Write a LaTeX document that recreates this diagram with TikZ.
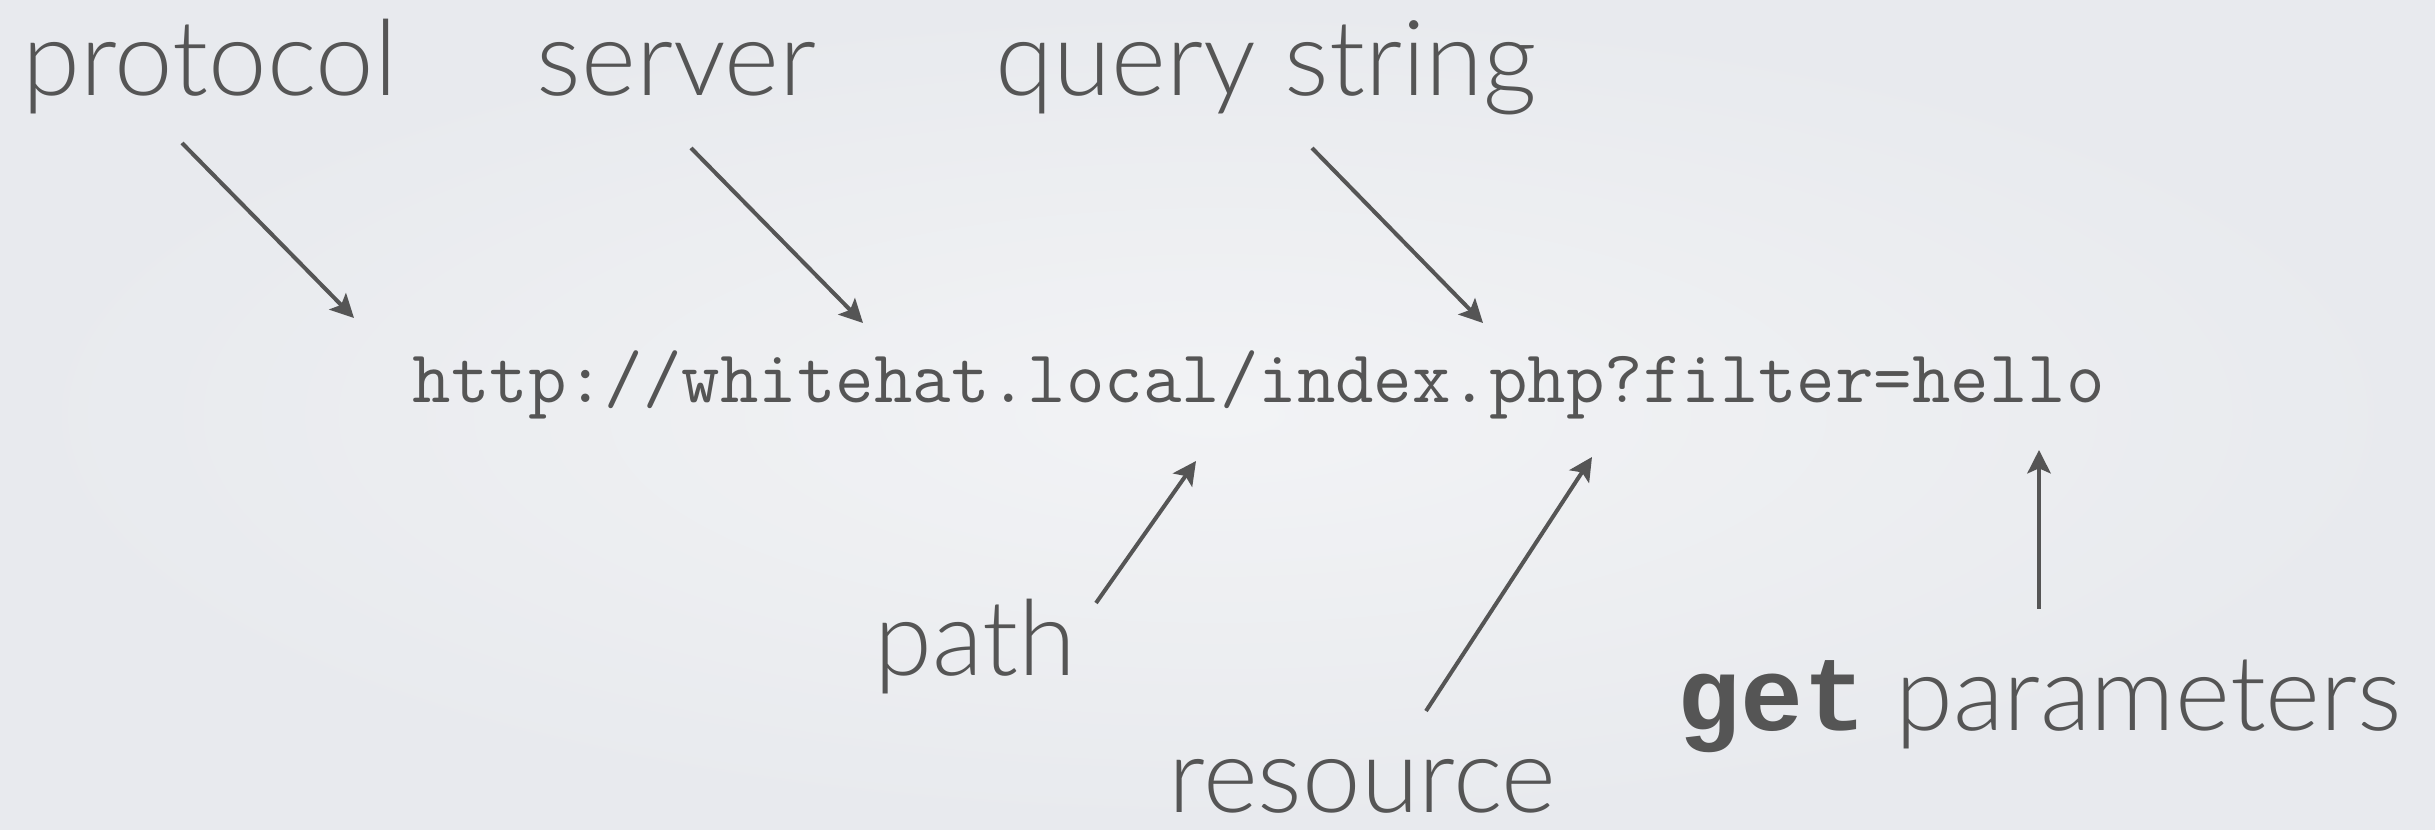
\documentclass[tikz,border=0pt]{standalone}
\usepackage{fontspec}
\usetikzlibrary{arrows.meta}
\newfontfamily\gillfont{Lato Light}
\newfontfamily\boldmono{Liberation Mono}
\definecolor{inkgray}{HTML}{555555}
\definecolor{bginner}{HTML}{F2F3F5}
\definecolor{bgouter}{HTML}{E8EAEE}

\begin{document}
\begin{tikzpicture}[x=0.3pt, y=-0.3pt, >={Stealth[length=7pt,width=7pt,inset=1.5pt]},
  lbl/.style={text=inkgray, inner sep=0pt, anchor=base west, font=\gillfont\fontsize{31.5}{36}\selectfont},
  pointer/.style={->, draw=inkgray, line width=1.2pt}]
  \shade[inner color=bginner, outer color=bgouter] (0,0) rectangle (2435,830);
  \useasboundingbox (0,0) rectangle (2435,830);
  % labels
  \node[lbl] (protocol) at (22,96)  {protocol};
  \node[lbl] (server)   at (536,96) {server};
  \node[lbl] (query)    at (995,96) {query string};
  \node[lbl, font=\ttfamily\fontsize{22.4}{25}\selectfont] (url) at (412,403) {http://whitehat.local/index.php?filter=hello};
  \node[lbl] (path)     at (874,675)  {path};
  \node[lbl] (resource) at (1168,812) {resource};
  \node[lbl] (get)      at (1677,730) {{\boldmono\bfseries get} parameters};
  % arrow ends
  \coordinate (p1) at (182,143);  \coordinate (p2) at (354,318);
  \coordinate (s1) at (691,148);  \coordinate (s2) at (863,323);
  \coordinate (q1) at (1312,148); \coordinate (q2) at (1483,323);
  \coordinate (a1) at (1096,603); \coordinate (a2) at (1196,461);
  \coordinate (r1) at (1426,711); \coordinate (r2) at (1592,457);
  \coordinate (g1) at (2039,609); \coordinate (g2) at (2039,450);
  \draw[pointer](p1)--(p2); \draw[pointer](s1)--(s2); \draw[pointer](q1)--(q2);
  \draw[pointer](a1)--(a2); \draw[pointer](r1)--(r2); \draw[pointer](g1)--(g2);
\end{tikzpicture}
\end{document}
